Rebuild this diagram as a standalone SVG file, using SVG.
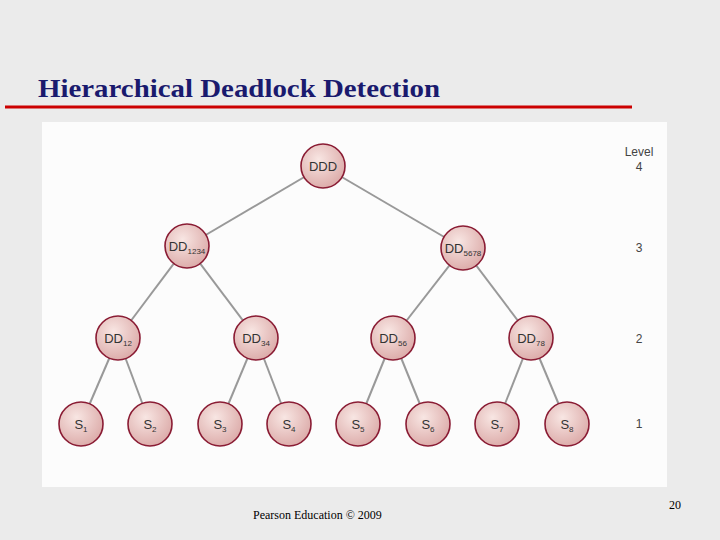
<svg xmlns="http://www.w3.org/2000/svg" width="720" height="540" viewBox="0 0 720 540">
<defs>
<radialGradient id="g" cx="0.4" cy="0.35" r="0.7"><stop offset="0" stop-color="#f8e6e3"/><stop offset="1" stop-color="#dba9a7"/></radialGradient>
<style>
.n{fill:url(#g);stroke:#8a1c34;stroke-width:1.6}
.t{font-family:"Liberation Sans",Arial,sans-serif;font-size:13px;fill:#333;text-anchor:middle}
.s{font-size:8px}
.e line{stroke:#999;stroke-width:2}
.l{font-family:"Liberation Sans",Arial,sans-serif;font-size:12px;fill:#444;text-anchor:middle}
</style>
</defs>
<rect width="720" height="540" fill="#ebebeb"/>
<text x="38" y="97" font-family="Liberation Serif,serif" font-weight="bold" font-size="26" fill="#1a1a6e" textLength="402" lengthAdjust="spacingAndGlyphs">Hierarchical Deadlock Detection</text>
<line x1="5" y1="107" x2="632" y2="107" stroke="#c00" stroke-width="3"/>
<rect x="42" y="122" width="625" height="365" fill="#fcfcfc"/>
<g class="e">
<line x1="323" y1="166" x2="187" y2="246"/><line x1="323" y1="166" x2="463" y2="248"/>
<line x1="187" y1="246" x2="118" y2="338"/><line x1="187" y1="246" x2="256" y2="338"/>
<line x1="463" y1="248" x2="393" y2="338"/><line x1="463" y1="248" x2="531" y2="338"/>
<line x1="118" y1="338" x2="81" y2="424"/><line x1="118" y1="338" x2="150" y2="424"/>
<line x1="256" y1="338" x2="220" y2="424"/><line x1="256" y1="338" x2="289" y2="424"/>
<line x1="393" y1="338" x2="358" y2="424"/><line x1="393" y1="338" x2="428" y2="424"/>
<line x1="531" y1="338" x2="497" y2="424"/><line x1="531" y1="338" x2="567" y2="424"/>
</g>
<g id="DDD"><circle class="n" cx="323" cy="166" r="22"/><text class="t" x="323" y="171">DDD</text></g>
<g id="DD1234"><circle class="n" cx="187" cy="246" r="22"/><text class="t" x="187" y="251">DD<tspan class="s" dy="3">1234</tspan></text></g>
<g id="DD5678"><circle class="n" cx="463" cy="248" r="22"/><text class="t" x="463" y="253">DD<tspan class="s" dy="3">5678</tspan></text></g>
<g id="DD12"><circle class="n" cx="118" cy="338" r="22"/><text class="t" x="118" y="343">DD<tspan class="s" dy="3">12</tspan></text></g>
<g id="DD34"><circle class="n" cx="256" cy="338" r="22"/><text class="t" x="256" y="343">DD<tspan class="s" dy="3">34</tspan></text></g>
<g id="DD56"><circle class="n" cx="393" cy="338" r="22"/><text class="t" x="393" y="343">DD<tspan class="s" dy="3">56</tspan></text></g>
<g id="DD78"><circle class="n" cx="531" cy="338" r="22"/><text class="t" x="531" y="343">DD<tspan class="s" dy="3">78</tspan></text></g>
<g id="S1"><circle class="n" cx="81" cy="424" r="22"/><text class="t" x="81" y="429">S<tspan class="s" dy="3">1</tspan></text></g>
<g id="S2"><circle class="n" cx="150" cy="424" r="22"/><text class="t" x="150" y="429">S<tspan class="s" dy="3">2</tspan></text></g>
<g id="S3"><circle class="n" cx="220" cy="424" r="22"/><text class="t" x="220" y="429">S<tspan class="s" dy="3">3</tspan></text></g>
<g id="S4"><circle class="n" cx="289" cy="424" r="22"/><text class="t" x="289" y="429">S<tspan class="s" dy="3">4</tspan></text></g>
<g id="S5"><circle class="n" cx="358" cy="424" r="22"/><text class="t" x="358" y="429">S<tspan class="s" dy="3">5</tspan></text></g>
<g id="S6"><circle class="n" cx="428" cy="424" r="22"/><text class="t" x="428" y="429">S<tspan class="s" dy="3">6</tspan></text></g>
<g id="S7"><circle class="n" cx="497" cy="424" r="22"/><text class="t" x="497" y="429">S<tspan class="s" dy="3">7</tspan></text></g>
<g id="S8"><circle class="n" cx="567" cy="424" r="22"/><text class="t" x="567" y="429">S<tspan class="s" dy="3">8</tspan></text></g>
<g id="levels">
<text class="l" x="639" y="156">Level</text><text class="l" x="639" y="171">4</text>
<text class="l" x="639" y="252">3</text><text class="l" x="639" y="343">2</text><text class="l" x="639" y="428">1</text>
</g>
<text x="253" y="519" font-family="Liberation Serif,serif" font-size="12" fill="#000">Pearson Education © 2009</text>
<text x="669" y="509" font-family="Liberation Serif,serif" font-size="12" fill="#000">20</text>
</svg>
